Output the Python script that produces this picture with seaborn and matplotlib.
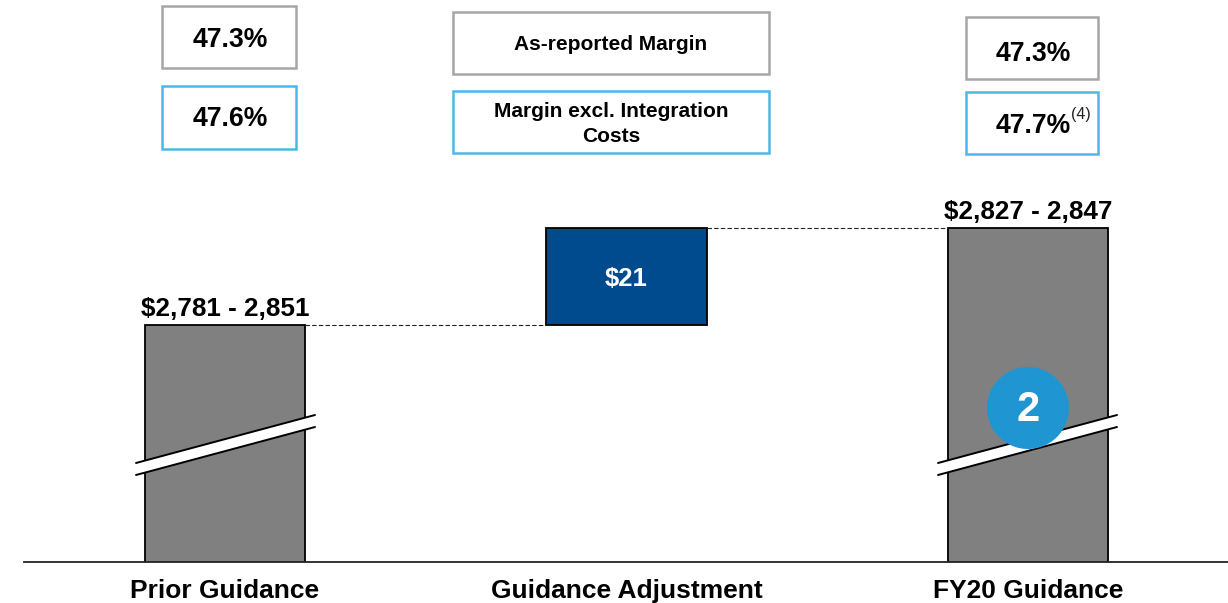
import matplotlib
matplotlib.use("Agg")
import matplotlib.pyplot as plt
from matplotlib.patches import Rectangle, Polygon, Circle
from matplotlib.transforms import Affine2D
import seaborn as sns

categories = ["Prior Guidance", "Guidance Adjustment", "FY20 Guidance"]
total_cats = ["Prior Guidance", "FY20 Guidance"]
total_mid = [2816, 2837]
adjustment = [21]
range_labels = ["$2,781 - 2,851", "$2,827 - 2,847"]
reported_margin = ["47.3%", "47.3%"]
excl_margin = ["47.6%", "47.7%"]

W, H = 1228, 603
GREY, NAVY = "#808080", "#004B8D"
BOX_GREY, BOX_BLUE = "#A6A6A6", "#4DB6E8"

sns.set_theme(style="white")
plt.rcParams["font.family"] = ["Liberation Sans", "DejaVu Sans"]

fig = plt.figure(figsize=(W / 100, H / 100), dpi=100)
ax = fig.add_axes([24 / W, (H - 562) / H, (W - 24) / W, 562 / H])

# same orientation as the picture: pixels from the top left
px = Affine2D().scale(1 / W, -1 / H).translate(0, 1) + fig.transFigure

bar_kws = dict(order=categories, width=0.4, saturation=1, edgecolor="black", linewidth=1.3, ax=ax)
sns.barplot(x=total_cats, y=total_mid, color=GREY, **bar_kws)
sns.barplot(x=categories[1:2], y=adjustment, bottom=total_mid[0], color=NAVY, **bar_kws)

# 21 units take 97 px, the baseline sits 237 px under the prior bar top
unit = 97 / adjustment[0]
floor = total_mid[0] - 237 / unit
ax.set_ylim(floor, floor + 562 / unit)
ax.set_xlim((24 - 225) / 401.5, (W - 225) / 401.5)

sns.despine(ax=ax, left=True, top=True, right=True)
ax.spines["bottom"].set_color("#222222")
ax.spines["bottom"].set_linewidth(1.3)
ax.set_yticks([])
ax.tick_params(axis="x", length=0, pad=12.5, labelsize=19)
for t in ax.get_xticklabels():
    t.set_fontweight("bold")
    t.set_color("black")

# dashed connectors
ax.plot([0.2, 0.8], [total_mid[0]] * 2, color="#222222", lw=0.8, ls=(0, (4, 2)))
ax.plot([1.2, 1.8], [total_mid[1]] * 2, color="#222222", lw=0.8, ls=(0, (4, 2)))

ax.text(1, total_mid[0] + adjustment[0] / 2 - 0.45, "$" + str(adjustment[0]), color="white",
        ha="center", va="center", fontsize=18.5, fontweight="bold")
for i, lab, val in zip([0, 2], range_labels, total_mid):
    ax.annotate(lab, (i, val), xytext=(0, 3), textcoords="offset points", ha="center",
                va="bottom", fontsize=18.8, fontweight="bold", color="black")


# axis break
def axis_break(x0):
    x1 = x0 + 179
    fig.add_artist(Polygon([(x0, 463), (x1, 415), (x1, 427), (x0, 475)], closed=True,
                           facecolor="white", edgecolor="none", transform=px))
    for off in (0, 12):
        fig.add_artist(plt.Line2D([x0, x1], [463 + off, 415 + off], color="black", lw=1.4, transform=px))


axis_break(136)
axis_break(938)

fig.add_artist(Circle((1028, 408), 41, facecolor="#1F96D2", edgecolor="none", transform=px, zorder=2.5))
fig.text(1028, 410, "2", transform=px, color="white", ha="center", va="center", fontsize=30, fontweight="bold")


# margin boxes
def box(x0, y0, x1, y1, color):
    fig.add_artist(Rectangle((x0, y0), x1 - x0, y1 - y0, facecolor="white", edgecolor=color, lw=1.8, transform=px))


box(162, 6, 296, 68, BOX_GREY)
box(162, 86, 296, 149, BOX_BLUE)
box(453, 12, 769, 74, BOX_GREY)
box(453, 91, 769, 153, BOX_BLUE)
box(966, 17, 1098, 79, BOX_GREY)
box(966, 92, 1098, 154, BOX_BLUE)

fig.text(230, 40, reported_margin[0], transform=px, ha="center", va="center", fontsize=19.2, fontweight="bold", color="black")
fig.text(230, 119, excl_margin[0], transform=px, ha="center", va="center", fontsize=19.2, fontweight="bold", color="black")
fig.text(1033, 54, reported_margin[1], transform=px, ha="center", va="center", fontsize=19.2, fontweight="bold", color="black")
fig.text(1033, 126, excl_margin[1], transform=px, ha="center", va="center", fontsize=19.2, fontweight="bold", color="black")
fig.text(1071, 115, "(4)", transform=px, ha="left", va="center", fontsize=11.5, color="#222222")
fig.text(611, 45, "As-reported Margin", transform=px, ha="center", va="center", fontsize=15, fontweight="bold", color="black")
fig.text(611, 124, "Margin excl. Integration\nCosts", transform=px, ha="center", va="center", fontsize=15, fontweight="bold", color="black", linespacing=1.4)

fig.savefig("out.png", dpi=100)
